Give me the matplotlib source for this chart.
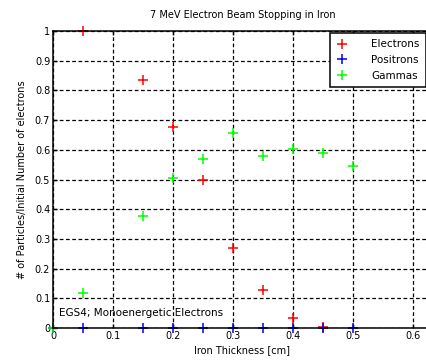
import numpy as np
import matplotlib
matplotlib.use('Agg')
import matplotlib.pyplot as plt

# Datos
thickness = [0.0, 0.05, 0.15, 0.2, 0.25, 0.3, 0.35, 0.4, 0.45, 0.5]
electrons = [np.nan, 1.0, 0.834, 0.676, 0.497, 0.268, 0.128, 0.033, 0.004, np.nan]
positrons = [0.0, 0.0, 0.0, 0.0, 0.0, 0.0, 0.0, 0.0, 0.0, 0.0]
gammas = [0.0, 0.117, 0.378, 0.504, 0.568, 0.658, 0.580, 0.603, 0.588, 0.547]

xticks = [0, 0.1, 0.2, 0.3, 0.4, 0.5, 0.6]
yticks = [0, 0.1, 0.2, 0.3, 0.4, 0.5, 0.6, 0.7, 0.8, 0.9, 1.0]

W, H = 427, 362
fig = plt.figure(figsize=(W / 100, H / 100), dpi=100)
ax = fig.add_axes([53 / W, 34 / H, 379 / W, 297 / H])

mk = dict(linestyle='none', marker='+', markersize=7, markeredgewidth=1.1)
ax.plot(thickness, electrons, color='#ff0000', label='Electrons', **mk)
ax.plot(thickness, positrons, color='#0000ff', label='Positrons', **mk)
ax.plot(thickness, gammas, color='#00ff00', label='Gammas', **mk)

for l in ax.get_lines():
    l.set_clip_on(False)

ax.set_xlim(0, 0.632)
ax.set_ylim(0, 1.0)
ax.set_xticks(xticks)
ax.set_xticklabels(['0', '0.1', '0.2', '0.3', '0.4', '0.5', '0.6'])
ax.set_yticks(yticks)
ax.set_yticklabels(['0', '0.1', '0.2', '0.3', '0.4', '0.5', '0.6', '0.7', '0.8', '0.9', '1'])
ax.tick_params(direction='in', length=3, width=1, labelsize=7, pad=2, top=True)
ax.grid(True, color='black', linestyle=(0, (3, 2)), linewidth=0.9)
ax.set_axisbelow(True)
for s in ax.spines.values():
    s.set_linewidth(1.1)

ax.set_title('7 MeV Electron Beam Stopping in Iron', fontsize=7, pad=9)
ax.set_xlabel('Iron Thickness [cm]', fontsize=7, labelpad=3)
ax.set_ylabel('# of Particles/Initial Number of electrons', fontsize=7, labelpad=6)
ax.text(0.01, 0.035, 'EGS4; Monoenergetic Electrons', fontsize=7.5, ha='left', va='bottom')

leg = ax.legend(loc='upper right', bbox_to_anchor=(426 / W, 1 - 33 / H),
                bbox_transform=fig.transFigure, borderaxespad=0, fontsize=7.5,
                fancybox=False, framealpha=1, edgecolor='black',
                handlelength=1.2, borderpad=0.6, labelspacing=0.55, handletextpad=2.2)
leg.get_frame().set_linewidth(1.1)

fig.savefig('out.png', dpi=100)
